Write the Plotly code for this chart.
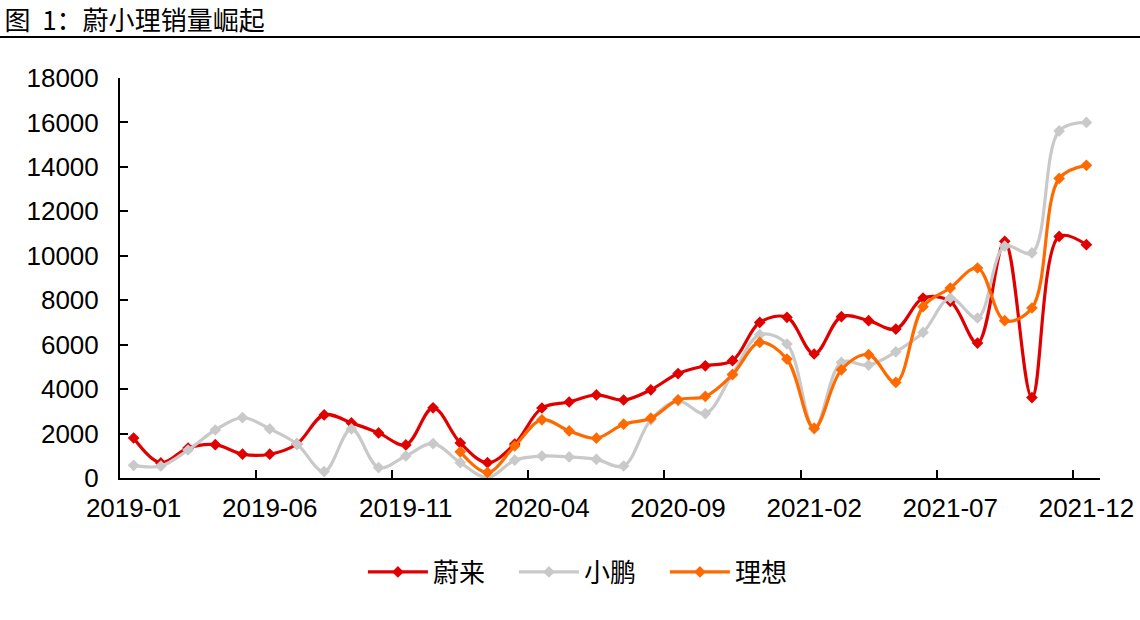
import plotly.graph_objects as go

months = [f"{y}-{m:02d}" for y in (2019, 2020, 2021) for m in range(1, 13)]

nio = [1800, 680, 1350, 1500, 1070, 1070, 1530, 2840, 2480, 2030, 1490, 3160,
       1580, 690, 1530, 3150, 3420, 3740, 3510, 3970, 4700, 5050, 5280, 7000,
       7230, 5580, 7260, 7080, 6700, 8100, 7950, 6070, 10650, 3620, 10870, 10500]
xpeng = [570, 540, 1260, 2160, 2720, 2210, 1530, 290, 2210, 470, 990, 1550,
         690, 20, 800, 990, 950, 840, 540, 2620, 3470, 2900, 4680, 6450,
         6030, 2200, 5200, 5080, 5680, 6550, 8100, 7200, 10430, 10130, 15620, 16000]
li = [None] * 12 + [1180, 250, 1440, 2620, 2120, 1790, 2420, 2690, 3520, 3670, 4650, 6100,
                    5350, 2240, 4870, 5550, 4300, 7710, 8550, 9450, 7080, 7650, 13480, 14070]

names = ["蔚来", "小鹏", "理想"]
colors = ["#E00000", "#C9C9C9", "#FF6A00"]
series = [nio, xpeng, li]

tick_idx = list(range(0, 36, 5))
tick_text = [months[i] for i in tick_idx]
boundary_ticks = [i + 4.5 for i in range(0, 35, 5)]

x_idx = list(range(len(months)))

fig = go.Figure()
for name, col, vals in zip(names, colors, series):
    fig.add_trace(go.Scatter(
        x=x_idx, y=vals, name=name, mode="lines+markers",
        line=dict(color=col, width=3.2, shape="spline", smoothing=1.0),
        marker=dict(symbol="diamond", size=9, color=col),
        connectgaps=False,
    ))

# dummy trace to drive the boundary tick axis
fig.add_trace(go.Scatter(x=[None], y=[None], xaxis="x2", showlegend=False, hoverinfo="skip"))

tick_font = dict(family="Liberation Sans, Arial, sans-serif", size=26, color="#000")

fig.update_layout(
    width=1140, height=620,
    paper_bgcolor="white", plot_bgcolor="white",
    margin=dict(l=120, r=40, t=78, b=142, autoexpand=False),
    title=dict(text="图  1：蔚小理销量崛起", x=0.004, xanchor="left", xref="container",
               y=1 - 21 / 620, yanchor="middle", yref="container",
               font=dict(family="Noto Sans CJK SC, Liberation Sans, sans-serif", size=26, color="#000")),
    xaxis=dict(
        range=[-0.5, 35.5], tickmode="array", tickvals=tick_idx, ticktext=tick_text,
        ticks="", showgrid=False, zeroline=False, showline=True, linecolor="#000", linewidth=2,
        tickfont=tick_font, ticklabelstandoff=6, automargin=False,
    ),
    xaxis2=dict(
        range=[-0.5, 35.5], overlaying="x", side="bottom", tickmode="array",
        tickvals=boundary_ticks, showticklabels=False, ticks="inside", ticklen=8,
        tickwidth=2, tickcolor="#000", showgrid=False, zeroline=False, showline=False,
    ),
    yaxis=dict(
        range=[0, 18000], tickmode="linear", tick0=0, dtick=2000, tickformat="d",
        ticks="inside", ticklen=8, tickwidth=2, tickcolor="#000",
        showgrid=False, zeroline=False, showline=True, linecolor="#000", linewidth=2,
        tickfont=tick_font, ticklabelstandoff=14, automargin=False,
    ),
    legend=dict(
        orientation="h", x=0.479, xanchor="center", y=-0.235, yanchor="middle",
        font=dict(family="Noto Sans CJK SC, sans-serif", size=26, color="#000"),
        itemwidth=60, entrywidth=76, traceorder="normal", bgcolor="rgba(0,0,0,0)",
    ),
    shapes=[dict(type="line", xref="paper", yref="paper",
                 x0=-120 / 980, x1=1 + 40 / 980, y0=1 + 41 / 400, y1=1 + 41 / 400,
                 line=dict(color="#000", width=2))],
    showlegend=True,
)

fig.write_html("out.html", config={"displayModeBar": False},
               post_script="document.body.style.margin='0';document.body.style.padding='0';")
